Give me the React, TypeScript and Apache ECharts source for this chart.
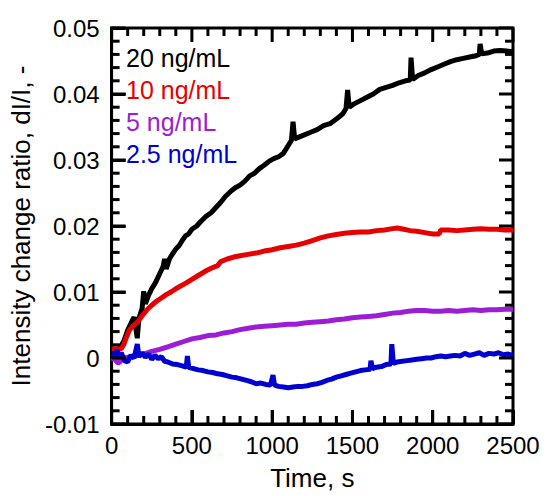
import React, { useEffect, useRef } from "react";
import * as echarts from "echarts";

const seriesNames = ["20 ng/mL", "10 ng/mL", "5 ng/mL", "2.5 ng/mL"];
const seriesColors = ["#000000", "#e60000", "#9b1ed6", "#0000d0"];

// tick positions (major ticks every 500 s / 0.01, minor every 100 s / 0.002)
const xTickValues = [0, 100, 200, 300, 400, 500, 600, 700, 800, 900, 1000, 1100, 1200, 1300, 1400, 1500, 1600, 1700, 1800, 1900, 2000, 2100, 2200, 2300, 2400, 2500];
const yTickValues = [-0.01, -0.008, -0.006, -0.004, -0.002, 0, 0.002, 0.004, 0.006, 0.008, 0.01, 0.012, 0.014, 0.016, 0.018, 0.02, 0.022, 0.024, 0.026, 0.028, 0.03, 0.032, 0.034, 0.036, 0.038, 0.04, 0.042, 0.044, 0.046, 0.048, 0.05];

const black20: number[][] = [
  [0, 0.0008], [25, 0.001], [50, 0.0015], [75, 0.0025], [100, 0.0042], [125, 0.0055], [140, 0.0062], [160, 0.003], [170, 0.006], [190, 0.0075], [200, 0.0101], [210, 0.0082], [230, 0.0095], [250, 0.0105], [275, 0.0115], [300, 0.0128], [320, 0.0138], [330, 0.015], [340, 0.0135], [360, 0.015], [380, 0.0158], [400, 0.0165], [420, 0.017], [440, 0.0178], [460, 0.0185], [480, 0.0188], [500, 0.0195], [530, 0.02], [560, 0.0208], [590, 0.0215], [620, 0.022], [650, 0.0228], [680, 0.0236], [710, 0.0245], [740, 0.0252], [770, 0.0258], [800, 0.0262], [830, 0.0268], [860, 0.0276], [890, 0.028], [920, 0.0287], [950, 0.0292], [980, 0.0298], [1010, 0.0302], [1040, 0.0305], [1070, 0.031], [1100, 0.0322], [1120, 0.033], [1130, 0.0358], [1140, 0.0332], [1170, 0.0335], [1200, 0.0338], [1240, 0.0342], [1280, 0.0346], [1320, 0.0352], [1360, 0.0355], [1400, 0.0362], [1440, 0.037], [1460, 0.0378], [1470, 0.0406], [1480, 0.038], [1510, 0.0385], [1550, 0.039], [1590, 0.0395], [1630, 0.04], [1670, 0.0407], [1710, 0.041], [1750, 0.0413], [1790, 0.0417], [1830, 0.042], [1860, 0.0421], [1865, 0.0455], [1875, 0.0422], [1910, 0.0428], [1950, 0.0432], [1990, 0.0437], [2030, 0.0441], [2070, 0.0445], [2110, 0.0449], [2150, 0.0452], [2190, 0.0454], [2230, 0.0456], [2270, 0.0458], [2290, 0.046], [2295, 0.0476], [2305, 0.0461], [2340, 0.0462], [2380, 0.0465], [2420, 0.0466], [2460, 0.0465], [2500, 0.0464],
];

const red10: number[][] = [
  [0, 0.0014], [30, 0.0014], [60, 0.0014], [75, 0.002], [90, 0.003], [110, 0.0042], [130, 0.0048], [160, 0.0054], [190, 0.0064], [220, 0.0073], [250, 0.008], [280, 0.0086], [310, 0.0091], [340, 0.0096], [370, 0.01], [400, 0.0105], [430, 0.0109], [460, 0.0113], [500, 0.0119], [540, 0.0125], [580, 0.0131], [620, 0.0136], [660, 0.014], [680, 0.0146], [720, 0.015], [760, 0.0153], [800, 0.0155], [850, 0.0157], [900, 0.0159], [950, 0.0162], [1000, 0.0164], [1050, 0.0167], [1100, 0.0169], [1150, 0.0171], [1200, 0.0174], [1250, 0.0178], [1300, 0.0182], [1350, 0.0185], [1400, 0.0187], [1450, 0.0189], [1500, 0.019], [1550, 0.0191], [1600, 0.0191], [1650, 0.0193], [1700, 0.0194], [1750, 0.0196], [1780, 0.0197], [1820, 0.0195], [1860, 0.0193], [1900, 0.0192], [1950, 0.019], [2000, 0.0188], [2040, 0.0188], [2050, 0.0194], [2100, 0.0194], [2150, 0.0193], [2200, 0.0194], [2250, 0.0195], [2300, 0.0196], [2350, 0.0195], [2400, 0.0195], [2450, 0.0194], [2500, 0.0194],
];

const purple5: number[][] = [
  [0, 0.0], [20, -0.0002], [40, -0.0008], [55, -0.0005], [70, 0.0], [100, 0.0001], [150, 0.0003], [200, 0.0006], [250, 0.001], [300, 0.0013], [350, 0.0017], [400, 0.0021], [450, 0.0025], [500, 0.0029], [550, 0.0031], [600, 0.0034], [650, 0.0035], [700, 0.0038], [750, 0.004], [800, 0.0043], [850, 0.0045], [900, 0.0047], [950, 0.0048], [1000, 0.0049], [1050, 0.005], [1100, 0.0051], [1150, 0.0051], [1200, 0.0053], [1250, 0.0054], [1300, 0.0055], [1350, 0.0056], [1400, 0.0058], [1450, 0.0059], [1500, 0.0061], [1550, 0.0062], [1600, 0.0063], [1650, 0.0064], [1700, 0.0066], [1750, 0.0068], [1800, 0.0069], [1850, 0.0071], [1900, 0.0072], [1950, 0.0072], [2000, 0.0071], [2050, 0.0071], [2100, 0.0072], [2150, 0.0071], [2200, 0.0072], [2250, 0.0073], [2300, 0.0072], [2350, 0.0073], [2400, 0.0073], [2450, 0.0074], [2500, 0.0074],
];

const blue25: number[][] = [
  [0, 0.0006], [20, 0.0004], [35, 0.0012], [45, 0.0002], [60, 0.0008], [80, -0.0004], [100, -0.0006], [120, 0.0004], [140, 0.0], [160, 0.0021], [170, 0.0002], [190, 0.0008], [210, 0.0001], [230, 0.0006], [250, -0.0002], [270, 0.0004], [290, -0.0001], [310, 0.0002], [330, -0.0005], [350, -0.0006], [380, -0.0009], [410, -0.001], [440, -0.0012], [465, -0.0014], [472, 0.0003], [480, -0.0014], [510, -0.0016], [540, -0.0018], [570, -0.0019], [600, -0.0021], [630, -0.0022], [660, -0.0024], [690, -0.0025], [720, -0.0027], [750, -0.0029], [780, -0.003], [810, -0.0032], [840, -0.0034], [870, -0.0036], [900, -0.0039], [930, -0.0038], [960, -0.004], [990, -0.0041], [1005, -0.0026], [1015, -0.0041], [1040, -0.0043], [1070, -0.0044], [1100, -0.0045], [1130, -0.0044], [1160, -0.0043], [1190, -0.0043], [1220, -0.0042], [1250, -0.004], [1280, -0.0039], [1310, -0.0037], [1340, -0.0034], [1370, -0.0032], [1400, -0.0029], [1430, -0.0027], [1460, -0.0025], [1490, -0.0023], [1520, -0.0021], [1550, -0.0019], [1580, -0.0018], [1610, -0.0017], [1615, -0.0004], [1625, -0.0016], [1650, -0.0014], [1680, -0.0013], [1710, -0.001], [1740, -0.0009], [1745, 0.0021], [1755, -0.0008], [1780, -0.0006], [1810, -0.0005], [1840, -0.0004], [1870, -0.0003], [1900, -0.0002], [1930, -0.0001], [1960, 0.0], [1990, 0.0], [2020, 0.0002], [2050, 0.0003], [2080, 0.0002], [2110, 0.0003], [2140, 0.0004], [2170, 0.0003], [2200, 0.0007], [2230, 0.0004], [2260, 0.0006], [2290, 0.0008], [2320, 0.0004], [2350, 0.0007], [2380, 0.0006], [2410, 0.0008], [2440, 0.0005], [2470, 0.0006], [2500, 0.0004],
];

const seriesData = [black20, red10, purple5, blue25];

const FONT = "'Liberation Sans', Arial, sans-serif";
const TICK_FS = 24;
const NAME_FS = 26;
const LEGEND_FS = 25;
const X_MIN = 0, X_MAX = 2500, Y_MIN = -0.01, Y_MAX = 0.05;

const isMajor = (v: number, step: number) => Math.abs(v / step - Math.round(v / step)) < 1e-6;

// one custom series per frame side; tick direction (dx, dy) points into the plot
function tickSeries(points: number[][], valueDim: number, step: number, dx: number, dy: number) {
  return {
    type: "custom",
    clip: false,
    z: 5,
    data: points,
    renderItem: (_p: any, api: any) => {
      const c = api.coord([api.value(0), api.value(1)]);
      const len = isMajor(api.value(valueDim), step) ? 14 : 8;
      return {
        type: "line",
        shape: { x1: c[0], y1: c[1], x2: c[0] + dx * len, y2: c[1] + dy * len },
        style: { stroke: "#000", lineWidth: 3 },
      };
    },
  };
}

export default function App() {
  const ref = useRef<HTMLDivElement>(null);
  useEffect(() => {
    if (!ref.current) return;
    document.body.style.margin = "0";
    const chart = echarts.init(ref.current, null, { renderer: "svg" });
    const yFmt = (v: number) => {
      const s = v.toFixed(2);
      if (s === "0.00" || s === "-0.00") return "0";
      return s;
    };
    const xFmt = (v: number) => String(Math.round(v));

    chart.setOption({
      animation: false,
      backgroundColor: "#fff",
      grid: {
        left: 106, right: 34, top: 28, bottom: 65,
        show: true, borderColor: "#000", borderWidth: 3, backgroundColor: "transparent",
      },
      xAxis: {
        type: "value", min: X_MIN, max: X_MAX, interval: 500,
        name: "Time, s", nameLocation: "middle", nameGap: 42,
        nameTextStyle: { fontSize: NAME_FS, lineHeight: 24, color: "#000", fontFamily: FONT },
        axisLine: { show: true, onZero: false, lineStyle: { color: "#000", width: 3 } },
        axisTick: { show: true, inside: true, length: 14, lineStyle: { color: "#000", width: 3 } },
        splitLine: { show: false },
        axisLabel: { fontSize: TICK_FS, color: "#000", margin: 9, fontFamily: FONT, formatter: xFmt },
      },
      yAxis: {
        type: "value", min: Y_MIN, max: Y_MAX, interval: 0.01,
        name: "Intensity change ratio, dI/I, -", nameLocation: "middle", nameGap: 70,
        nameTextStyle: { fontSize: NAME_FS, color: "#000", fontFamily: FONT },
        axisLine: { show: true, onZero: false, lineStyle: { color: "#000", width: 3 } },
        axisTick: { show: true, inside: true, length: 14, lineStyle: { color: "#000", width: 3 } },
        splitLine: { show: false },
        axisLabel: { fontSize: TICK_FS, color: "#000", margin: 12, formatter: yFmt, fontFamily: FONT },
      },
      series: [
        ...seriesData.map((d, i) => ({
          type: "line",
          name: seriesNames[i],
          data: d,
          showSymbol: false,
          symbol: "none",
          lineStyle: { color: seriesColors[i], width: 5 },
          itemStyle: { color: seriesColors[i] },
          z: 2,
        })),
        tickSeries(xTickValues.map((v) => [v, Y_MIN]), 0, 500, 0, -1),
        tickSeries(xTickValues.map((v) => [v, Y_MAX]), 0, 500, 0, 1),
        tickSeries(yTickValues.map((v) => [X_MIN, v]), 1, 0.01, 1, 0),
        tickSeries(yTickValues.map((v) => [X_MAX, v]), 1, 0.01, -1, 0),
      ],
      graphic: seriesNames.map((n, i) => ({
        type: "text",
        left: 126,
        top: 45 + i * 32.3,
        style: { text: n, fill: seriesColors[i], fontSize: LEGEND_FS, fontFamily: FONT },
      })),
    });
    return () => chart.dispose();
  }, []);
  return <div ref={ref} style={{ width: 547, height: 496 }} />;
}
